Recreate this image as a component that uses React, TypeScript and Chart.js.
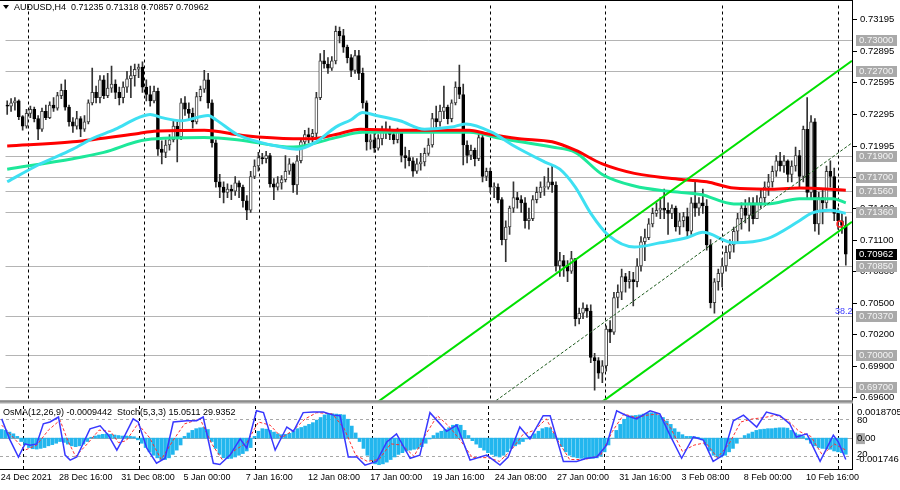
import React, { useEffect, useRef } from "react";
import { Chart, registerables } from "chart.js";
Chart.register(...registerables);

// ---- price data (pips: 7240 = 0.72400), one H4 bar per index ----
const FIRST_OPEN = 7238;
const CLOSE = [
  7237,7240,7242,7227,7218,7230,7234,7225,7215,7232,
  7226,7238,7235,7247,7252,7236,7222,7218,7225,7215,
  7222,7240,7250,7245,7262,7247,7254,7258,7250,7245,
  7255,7263,7266,7272,7274,7255,7248,7242,7251,7196,
  7193,7200,7205,7218,7208,7240,7234,7230,7222,7246,
  7253,7262,7240,7202,7165,7160,7155,7158,7156,7164,
  7160,7147,7138,7170,7180,7188,7187,7190,7163,7160,
  7164,7167,7175,7182,7162,7185,7203,7210,7208,7211,
  7245,7280,7277,7273,7280,7308,7304,7293,7283,7271,
  7285,7268,7240,7203,7205,7197,7206,7212,7214,7210,
  7205,7212,7190,7188,7185,7175,7182,7184,7192,7200,
  7225,7222,7232,7236,7225,7240,7255,7248,7200,7190,
  7195,7187,7207,7170,7175,7160,7160,7148,7110,7122,
  7140,7150,7148,7145,7128,7130,7148,7155,7160,7160,
  7165,7162,7085,7090,7085,7080,7092,7035,7040,7045,
  7042,6998,6995,6983,6990,7025,7022,7055,7060,7075,
  7070,7072,7070,7085,7108,7112,7125,7135,7138,7140,
  7138,7135,7140,7122,7128,7132,7118,7145,7140,7145,
  7142,7105,7050,7070,7078,7085,7098,7105,7118,7130,
  7140,7133,7145,7130,7145,7150,7160,7165,7175,7185,
  7180,7185,7172,7180,7190,7170,7215,7155,7222,7125,
  7150,7145,7175,7170,7135,7128,7123.5,7096.2,
];
const HIGH = [
  7242,7244,7245,7243,7228,7234,7237,7236,7228,7235,
  7238,7241,7245,7250,7258,7262,7238,7226,7232,7227,
  7228,7243,7273,7256,7266,7266,7268,7275,7262,7255,
  7260,7270,7275,7277,7277,7279,7262,7256,7256,7254,
  7204,7205,7210,7224,7222,7244,7246,7240,7235,7250,
  7256,7271,7268,7243,7205,7172,7165,7163,7162,7170,
  7166,7162,7152,7175,7186,7193,7192,7194,7192,7168,
  7170,7171,7190,7187,7183,7190,7206,7214,7216,7215,
  7250,7287,7290,7283,7284,7313,7312,7310,7295,7286,
  7290,7290,7273,7242,7210,7214,7210,7218,7222,7218,
  7215,7216,7214,7198,7195,7188,7187,7192,7197,7206,
  7230,7237,7238,7256,7238,7243,7260,7276,7258,7204,
  7200,7197,7210,7210,7178,7178,7164,7163,7150,7128,
  7142,7165,7155,7152,7150,7140,7152,7160,7165,7170,
  7178,7180,7165,7098,7095,7090,7099,7092,7045,7050,
  7048,7048,7002,6998,6995,7028,7033,7060,7067,7082,
  7078,7080,7079,7092,7113,7120,7130,7140,7145,7150,
  7158,7145,7143,7142,7135,7136,7140,7150,7166,7150,
  7158,7148,7110,7073,7082,7092,7104,7110,7122,7135,
  7145,7148,7150,7150,7152,7158,7165,7172,7180,7190,
  7193,7190,7186,7185,7198,7195,7218,7245,7228,7225,
  7155,7158,7180,7185,7178,7140,7135,7131.8,
];
const LOW = [
  7229,7232,7233,7224,7214,7216,7226,7222,7205,7213,
  7224,7225,7232,7233,7244,7233,7218,7212,7215,7208,
  7213,7220,7238,7240,7240,7244,7245,7250,7244,7238,
  7240,7250,7245,7256,7264,7250,7242,7237,7240,7190,
  7182,7188,7195,7203,7184,7205,7228,7225,7216,7220,
  7242,7250,7235,7198,7160,7150,7145,7150,7148,7152,
  7150,7141,7129,7136,7168,7175,7182,7183,7160,7148,
  7157,7158,7165,7172,7155,7153,7183,7198,7202,7203,
  7206,7243,7273,7268,7271,7277,7297,7288,7278,7265,
  7268,7262,7235,7195,7196,7193,7195,7200,7206,7205,
  7201,7202,7184,7178,7180,7170,7173,7176,7180,7190,
  7198,7215,7218,7225,7220,7222,7238,7244,7181,7183,
  7186,7180,7185,7165,7166,7155,7150,7145,7105,7089,
  7115,7136,7140,7136,7121,7120,7128,7145,7150,7152,
  7158,7155,7080,7075,7075,7070,7078,7028,7030,7035,
  7036,6993,6967,6978,6974,6985,7012,7020,7045,7053,
  7060,7064,7047,7065,7080,7090,7110,7122,7132,7130,
  7130,7115,7130,7118,7115,7122,7112,7115,7132,7133,
  7135,7100,7045,7040,7062,7065,7080,7092,7098,7108,
  7120,7126,7118,7125,7130,7140,7145,7152,7160,7170,
  7175,7174,7165,7165,7175,7160,7165,7150,7148,7118,
  7115,7125,7140,7160,7128,7120,7116,7085.7,
];

// moving averages: [bar, pips]
const MA_RED = [[0,7199],[17,7203],[34,7211],[38,7213],[51,7214],[61,7209],[74,7206],[79,7206],[85,7210],[91.4,7215],[102.4,7214],[119.6,7214],[123.7,7211],[132.5,7206],[141,7203],[147,7195],[154,7182],[162.3,7173],[175,7167],[181,7165],[188,7159],[196.7,7158],[205,7159],[217,7157]];
const MA_GREEN = [[0,7177],[17,7187],[25,7193],[36,7205],[51,7207],[59.5,7205],[74,7198],[85,7207],[92,7212],[102.4,7212],[119.6,7212],[128,7206],[141,7198],[147,7193],[154,7172],[162.3,7161],[171,7156],[179.5,7153],[188,7144],[196.7,7144],[205,7149],[213.7,7149],[217,7145]];
const MA_CYAN = [[0,7165],[8,7181],[17,7196],[22,7206],[28,7215],[34,7226],[37,7229],[40,7226],[45,7223],[52,7228],[54,7224],[59.5,7210],[65,7203],[71,7198],[75,7196],[80,7203],[85,7217],[89,7224],[92,7231],[95.5,7228],[101.6,7223],[108,7215],[115,7217],[118.6,7220],[125.5,7212],[130.7,7200],[139,7184],[143,7177],[147,7160],[151,7135],[155.6,7114],[162.3,7103],[169,7107],[176,7112],[180,7117],[188,7107],[196.7,7111],[205,7128],[208,7135],[213,7138],[217,7135]];

// regression channel end points: [bar, pips]
const CH_UPPER = [[96,6956],[218.6,7280]];
const CH_MIDDLE = [[126.5,6957],[218.6,7202]];
const CH_LOWER = [[154,6956],[218.6,7127]];
const ALERT_POINT = [[215.5,7125]];

// horizontal levels (pips) and right-axis ticks
const LEVELS = [7300, 7270, 7190, 7170, 7156, 7136, 7085, 7037, 7000, 6970];
const Y_TICKS = [7319.5, 7289.5, 7259.5, 7229.5, 7199.5, 7169.5, 7140, 7110, 7080, 7050, 7020, 6990, 6960];
const FIB_LEVEL = 7037;
const FIB_TEXT = "38.2";

// time axis
const X_TICK_BARS = [0, 15, 31, 47, 63, 79, 95, 111, 127, 143, 159, 175, 191, 207];
const X_TICK_LABELS = ["24 Dec 2021", "28 Dec 16:00", "31 Dec 08:00", "5 Jan 00:00", "7 Jan 16:00", "12 Jan 08:00", "17 Jan 00:00", "19 Jan 16:00", "24 Jan 08:00", "27 Jan 00:00", "31 Jan 16:00", "3 Feb 08:00", "8 Feb 00:00", "10 Feb 16:00"];
const V_GRID = [5.4, 35.3, 65.2, 95.2, 125, 154.8, 184.9, 215];

// OsMA histogram (units of 0.00001), one per bar
const OSMA = [
  50,45,35,25,10,
  -20,-40,-55,-62,-64,-60,-55,-45,-38,-30,-20,
  -25,-35,-45,-50,-45,-35,-20,
  5,12,18,22,25,22,18,15,12,12,10,8,
  -10,-30,-55,-80,-100,-115,-125,-125,-115,-95,-70,-40,
  10,30,45,55,60,62,50,
  -20,-60,-95,-115,-120,-118,-110,-100,-90,-75,-55,
  10,40,55,52,45,35,25,20,22,28,40,55,62,
  70,80,90,105,120,135,140,142,140,138,135,
  110,70,30,
  -20,-60,-100,-130,-150,-155,-150,-140,-125,-110,-95,-85,-75,-70,-65,-60,-50,
  -30,-5,15,30,40,50,60,75,80,75,
  45,15,-15,-35,-55,-70,-85,-95,-105,-110,
  -100,-80,-60,-45,-35,-20,-5,10,25,40,55,62,60,30,
  -10,-50,-80,-100,-110,-115,-118,-120,-120,-118,-115,-105,-80,-40,0,
  45,80,110,125,130,132,135,140,145,148,145,135,120,100,80,55,35,20,10,10,8,5,
  -10,-40,-75,-100,-110,-110,-100,-80,-60,-30,0,15,25,35,45,50,52,55,55,58,60,60,58,45,30,20,10,
  -10,-30,-45,-55,-60,-62,-65,-75,-80,-85,-94,
];
const OSMA_MAX = 187.05;
const OSMA_MIN = -180;

// Stochastic main and signal: [bar, value]
const STOCH_MAIN = [[0,80],[2,48],[4.3,19],[6,40],[7.3,38],[9,40],[10.7,72],[12.4,75],[14.6,83],[16.3,22],[17.6,14],[19.3,19],[22.7,64],[25.3,69],[27.4,54],[29.6,30],[31.7,54],[33.8,80],[35.1,75],[37.3,33],[39.8,9],[42,17],[44.1,75],[47.6,77],[50.1,77],[51.8,83],[54.4,9],[56.1,7],[58.7,22],[61.3,48],[63,33],[65.5,93],[67.3,90],[70.3,30],[73.3,67],[75,60],[77.5,90],[80.1,91],[82.7,91],[85.3,86],[87,85],[89.1,19],[91.3,19],[93.4,6],[96.4,12],[99,43],[101.5,56],[105,17],[107.5,22],[110.1,90],[112.7,72],[114.4,60],[117,70],[120.4,14],[123,19],[124.7,22],[128.1,6],[130.2,19],[133.2,67],[135.8,48],[139.2,85],[141,85],[142.2,59],[144.4,12],[147.8,12],[150.4,17],[153,19],[155.5,38],[158.1,93],[160.7,85],[163.2,80],[166.7,93],[169.2,88],[171.8,54],[174.8,17],[177.8,51],[180.4,46],[182.9,12],[185.5,22],[188.1,77],[190.7,86],[194.1,67],[196.6,91],[200.1,85],[202.6,72],[204.3,51],[207,56],[210.4,12],[213.8,54],[215.1,43],[217,15]];
const STOCH_SIGNAL = [[0,70],[3,50],[6,30],[9,38],[12,62],[15,78],[17,45],[19,20],[22,40],[25,62],[28,60],[30,42],[32,45],[35,72],[38,50],[41,15],[44,45],[47,72],[51,80],[54,40],[57,12],[60,30],[63,42],[66,75],[69,70],[72,50],[75,62],[78,80],[81,90],[85,88],[88,65],[91,22],[94,12],[97,15],[100,40],[103,38],[106,20],[109,55],[112,85],[115,68],[118,45],[121,18],[125,18],[128,12],[131,30],[134,55],[137,62],[140,80],[143,45],[146,15],[150,15],[154,22],[157,60],[160,88],[163,82],[166,86],[169,88],[172,65],[175,28],[178,38],[181,42],[184,18],[187,40],[190,75],[193,80],[196,82],[199,86],[202,78],[205,60],[208,52],[211,22],[214,40],[217,30]];
const STOCH_LEVELS = [80, 20];

const HEADER_MAIN = "AUDUSD,H4  0.71235 0.71318 0.70857 0.70962";
const HEADER_SUB = "OsMA(12,26,9) -0.0009442  Stoch(5,3,3) 15.0511 29.9352";
const SUB_AXIS_TOP = "0.0018705";
const SUB_AXIS_BOTTOM = "-0.001746";

const FONT = '"Liberation Sans", Arial, sans-serif';
const AXIS_FONT = `9.5px ${FONT}`;
const X_MIN = -0.44;
const X_MAX = 218.6;
const Y_MIN = 6957.1;
const Y_MAX = 7332.6;

const pts = (a: number[][]) => a.map(([x, y]) => ({ x, y }));
const fmt = (p: number) => (p / 10000).toFixed(5);

export default function App() {
  const topRef = useRef<HTMLCanvasElement>(null);
  const botRef = useRef<HTMLCanvasElement>(null);

  useEffect(() => {
    document.body.style.margin = "0";
    const opens = CLOSE.map((c, i) => (i === 0 ? FIRST_OPEN : CLOSE[i - 1]));
    const bull = CLOSE.map((c, i) => c >= opens[i]);
    const bodies = CLOSE.map((c, i) => {
      let a = opens[i], b = c;
      if (Math.abs(a - b) < 0.6) { a -= 0.4; b += 0.4; }
      return { x: i, y: [a, b] };
    });
    const wicks = CLOSE.map((c, i) => ({ x: i, y: [LOW[i], HIGH[i]] }));

    const topPlugin = {
      id: "topDecor",
      beforeDatasetsDraw(chart: any) {
        const { ctx, chartArea: a, scales } = chart;
        const xs = scales.x, ys = scales.y;
        ctx.save();
        ctx.strokeStyle = "#b4b4b4";
        ctx.lineWidth = 1;
        for (const lv of LEVELS) {
          const py = Math.round(ys.getPixelForValue(lv)) + 0.5;
          ctx.beginPath(); ctx.moveTo(a.left, py); ctx.lineTo(a.right, py); ctx.stroke();
        }
        ctx.strokeStyle = "#000";
        ctx.setLineDash([3, 3]);
        for (const g of V_GRID) {
          const px = Math.round(xs.getPixelForValue(g)) + 0.5;
          ctx.beginPath(); ctx.moveTo(px, a.top); ctx.lineTo(px, a.bottom); ctx.stroke();
        }
        ctx.restore();
      },
      afterDraw(chart: any) {
        const { ctx, chartArea: a, scales } = chart;
        const ys = scales.y;
        ctx.save();
        // frame
        ctx.fillStyle = "#000";
        ctx.fillRect(0, 0, a.right + 1, 1);
        ctx.fillRect(a.right, 0, 1, chart.height);
        // separator
        ctx.fillStyle = "#a8a8a8";
        ctx.fillRect(0, a.bottom, a.right + 1, 3);
        ctx.fillStyle = "#707070";
        ctx.fillRect(0, a.bottom, a.right + 1, 1);
        // header
        ctx.fillStyle = "#000";
        ctx.beginPath(); ctx.moveTo(3, 5); ctx.lineTo(9, 5); ctx.lineTo(6, 9); ctx.closePath(); ctx.fill();
        ctx.font = `9px ${FONT}`;
        ctx.textBaseline = "middle";
        ctx.fillText(HEADER_MAIN, 14, 8);
        // fib text
        ctx.fillStyle = "#3c3cff";
        ctx.textBaseline = "bottom";
        ctx.fillText(FIB_TEXT, 835, ys.getPixelForValue(FIB_LEVEL));
        // axis ticks + labels
        ctx.font = AXIS_FONT;
        ctx.textBaseline = "middle";
        for (const t of Y_TICKS) {
          const py = Math.round(ys.getPixelForValue(t));
          ctx.fillStyle = "#000";
          ctx.fillRect(a.right + 1, py, 4, 1);
          ctx.fillText(fmt(t), a.right + 8, py + 0.5);
        }
        for (const lv of LEVELS) {
          const py = Math.round(ys.getPixelForValue(lv));
          ctx.fillStyle = "#a9a9a9";
          ctx.fillRect(a.right + 4, py - 5, 41, 11);
          ctx.fillStyle = "#f4f4f4";
          ctx.fillText(fmt(lv), a.right + 7, py + 0.5);
        }
        const cur = CLOSE[CLOSE.length - 1];
        const pc = Math.round(ys.getPixelForValue(cur));
        ctx.fillStyle = "#000";
        ctx.fillRect(a.right + 4, pc - 5, 41, 11);
        ctx.fillStyle = "#fff";
        ctx.fillText(fmt(cur), a.right + 7, pc + 0.5);
        ctx.restore();
      },
    };

    const top = new Chart(topRef.current!, {
      type: "bar",
      data: {
        datasets: [
          { type: "line", data: pts(CH_UPPER), borderColor: "#00e000", borderWidth: 2, pointRadius: 0, clip: 0, order: 1 } as any,
          { type: "line", data: pts(CH_LOWER), borderColor: "#00e000", borderWidth: 2, pointRadius: 0, clip: 0, order: 1 } as any,
          { type: "line", data: pts(CH_MIDDLE), borderColor: "#1c5a1c", borderWidth: 1, borderDash: [3, 2], pointRadius: 0, clip: 0, order: 1 } as any,
          { type: "scatter", data: pts(ALERT_POINT), pointRadius: 3, borderColor: "#ff2020", backgroundColor: "rgba(0,0,0,0)", borderWidth: 1.5, order: 0 } as any,
          { type: "line", data: pts(MA_RED), borderColor: "#ff0000", borderWidth: 3, pointRadius: 0, cubicInterpolationMode: "monotone", clip: 0, order: 3 } as any,
          { type: "line", data: pts(MA_GREEN), borderColor: "#1de89a", borderWidth: 3, pointRadius: 0, cubicInterpolationMode: "monotone", clip: 0, order: 4 } as any,
          { type: "line", data: pts(MA_CYAN), borderColor: "#3ee0f2", borderWidth: 3, pointRadius: 0, cubicInterpolationMode: "monotone", clip: 0, order: 2 } as any,
          { type: "bar", data: wicks, barThickness: 1, backgroundColor: "#333", grouped: false, order: 9 } as any,
          {
            type: "bar", data: bodies, barThickness: 3, grouped: false, order: 8,
            backgroundColor: (c: any) => (bull[c.dataIndex] ? "#ffffff" : "#000000"),
            borderColor: (c: any) => (bull[c.dataIndex] ? "#404040" : "#000000"),
            borderWidth: 1, borderSkipped: false,
          } as any,
        ],
      },
      options: {
        responsive: false,
        animation: false,
        devicePixelRatio: 1,
        events: [],
        layout: { padding: { left: 0, right: 48, top: 1, bottom: 3 } },
        plugins: { legend: { display: false }, tooltip: { enabled: false } },
        scales: {
          x: { type: "linear", min: X_MIN, max: X_MAX, offset: false, display: false },
          y: { type: "linear", min: Y_MIN, max: Y_MAX, beginAtZero: false, display: false },
        },
      } as any,
      plugins: [topPlugin],
    });

    const botPlugin = {
      id: "botDecor",
      beforeDatasetsDraw(chart: any) {
        const { ctx, chartArea: a, scales } = chart;
        ctx.save();
        ctx.lineWidth = 1;
        ctx.strokeStyle = "#a8a8a8";
        const z = Math.round(scales.yh.getPixelForValue(0)) + 0.5;
        ctx.beginPath(); ctx.moveTo(a.left, z); ctx.lineTo(a.right, z); ctx.stroke();
        ctx.setLineDash([3, 3]);
        for (const lv of STOCH_LEVELS) {
          const py = Math.round(scales.ys.getPixelForValue(lv)) + 0.5;
          ctx.beginPath(); ctx.moveTo(a.left, py); ctx.lineTo(a.right, py); ctx.stroke();
        }
        ctx.strokeStyle = "#000";
        for (const g of V_GRID) {
          const px = Math.round(scales.x.getPixelForValue(g)) + 0.5;
          ctx.beginPath(); ctx.moveTo(px, a.top); ctx.lineTo(px, a.bottom); ctx.stroke();
        }
        ctx.restore();
      },
      afterDraw(chart: any) {
        const { ctx, chartArea: a, scales } = chart;
        ctx.save();
        ctx.fillStyle = "#000";
        ctx.fillRect(0, a.bottom, a.right + 1, 1);
        ctx.fillRect(a.right, 0, 1, a.bottom + 1);
        ctx.font = `9px ${FONT}`;
        ctx.textBaseline = "middle";
        ctx.fillText(HEADER_SUB, 3, 7);
        // x labels
        for (let i = 0; i < X_TICK_BARS.length; i++) {
          const px = scales.x.getPixelForValue(X_TICK_BARS[i]);
          ctx.fillText(X_TICK_LABELS[i], Math.max(0, px - 1), a.bottom + 9);
        }
        // right axis
        ctx.font = AXIS_FONT;
        ctx.fillText(SUB_AXIS_TOP, a.right + 5, 6);
        for (const lv of STOCH_LEVELS) {
          const py = scales.ys.getPixelForValue(lv);
          ctx.fillText(String(lv), a.right + 5, py + (lv < 50 ? -2 : 1));
        }
        const z = scales.yh.getPixelForValue(0);
        ctx.fillStyle = "#a9a9a9";
        ctx.fillRect(a.right + 4, z - 5, 9, 11);
        ctx.fillStyle = "#000";
        ctx.fillText("0.00", a.right + 5, z + 0.5);
        ctx.fillText(SUB_AXIS_BOTTOM, a.right + 4, a.bottom - 10);
        ctx.restore();
      },
    };

    const bot = new Chart(botRef.current!, {
      type: "bar",
      data: {
        datasets: [
          { type: "line", data: pts(STOCH_MAIN), yAxisID: "ys", borderColor: "#3838ff", borderWidth: 1.5, pointRadius: 0, clip: 0, order: 1 } as any,
          { type: "line", data: pts(STOCH_SIGNAL), yAxisID: "ys", borderColor: "#ff3030", borderWidth: 1, borderDash: [3, 2], pointRadius: 0, clip: 0, order: 2 } as any,
          { type: "bar", data: OSMA.map((v, i) => ({ x: i, y: v })), yAxisID: "yh", backgroundColor: "#22b6ee", barThickness: 3, grouped: false, order: 5 } as any,
        ],
      },
      options: {
        responsive: false,
        animation: false,
        devicePixelRatio: 1,
        events: [],
        layout: { padding: { left: 0, right: 48, top: 0, bottom: 21 } },
        plugins: { legend: { display: false }, tooltip: { enabled: false } },
        scales: {
          x: { type: "linear", min: X_MIN, max: X_MAX, offset: false, display: false },
          yh: { type: "linear", position: "right", min: OSMA_MIN, max: OSMA_MAX, display: false },
          ys: { type: "linear", position: "right", min: -0.2, max: 100.6, display: false },
        },
      } as any,
      plugins: [botPlugin],
    });

    return () => {
      top.destroy();
      bot.destroy();
    };
  }, []);

  return (
    <div style={{ position: "relative", width: 900, height: 490, background: "#fff", overflow: "hidden" }}>
      <canvas ref={topRef} width={900} height={406} style={{ position: "absolute", left: 0, top: 0, width: 900, height: 406 }} />
      <canvas ref={botRef} width={900} height={84} style={{ position: "absolute", left: 0, top: 406, width: 900, height: 84 }} />
    </div>
  );
}
